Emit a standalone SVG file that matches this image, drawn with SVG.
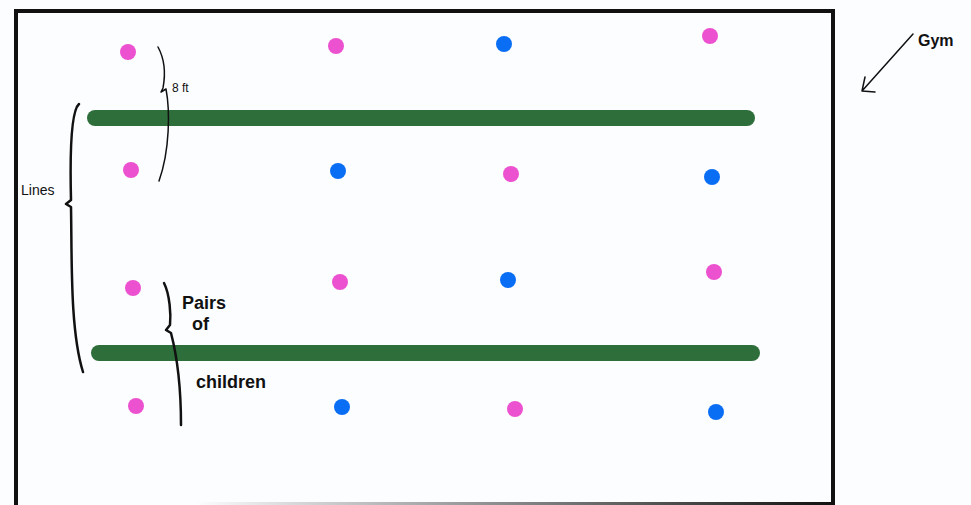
<svg xmlns="http://www.w3.org/2000/svg" width="971" height="505" viewBox="0 0 971 505">
<style>
.pink{fill:#ec52d0}
.blue{fill:#0a6ef5}
.green{stroke:#2e6e3a;stroke-width:16;stroke-linecap:round;fill:none}
.ink{stroke:#111;fill:none;stroke-linecap:round;stroke-linejoin:round}
.lbl{font-family:"Liberation Sans",Arial,sans-serif;fill:#111}
</style>
<defs>
<linearGradient id="fade" x1="0" y1="0" x2="1" y2="0">
<stop offset="0" stop-color="#111" stop-opacity="0"/>
<stop offset="1" stop-color="#111" stop-opacity="1"/>
</linearGradient>
</defs>
<rect x="0" y="0" width="971" height="505" fill="#fcfdff"/>
<g id="gym">
<path d="M16,505 V11 H833 V505" fill="none" stroke="#111" stroke-width="4"/>
<rect x="195" y="502" width="638" height="3" fill="url(#fade)"/>
</g>
<g id="lines">
<line class="green" x1="95" y1="118" x2="747" y2="118"/>
<line class="green" x1="99" y1="353" x2="752" y2="353"/>
</g>
<g id="children">
<circle class="pink" cx="128" cy="52" r="8"/>
<circle class="pink" cx="336" cy="46" r="8"/>
<circle class="blue" cx="504" cy="44" r="8"/>
<circle class="pink" cx="710" cy="36" r="8"/>
<circle class="pink" cx="131" cy="170" r="8"/>
<circle class="blue" cx="338" cy="171" r="8"/>
<circle class="pink" cx="511" cy="174" r="8"/>
<circle class="blue" cx="712" cy="177" r="8"/>
<circle class="pink" cx="133" cy="288" r="8"/>
<circle class="pink" cx="340" cy="282" r="8"/>
<circle class="blue" cx="508" cy="280" r="8"/>
<circle class="pink" cx="714" cy="272" r="8"/>
<circle class="pink" cx="136" cy="406" r="8"/>
<circle class="blue" cx="342" cy="407" r="8"/>
<circle class="pink" cx="515" cy="409" r="8"/>
<circle class="blue" cx="716" cy="412" r="8"/>
</g>
<g id="annotations">
<path class="ink" stroke-width="1.5" d="M158,47 C164,58 166,72 163,88 L161,92 L166,89 C170,110 170,150 159,181"/>
<text class="lbl" x="172" y="92" font-size="12">8 ft</text>
<path class="ink" stroke-width="2.5" d="M79,104 C70,112 70,160 71,200 L66,204 L71,207 C72,260 70,330 83,372"/>
<text class="lbl" x="21" y="195" font-size="14">Lines</text>
<path class="ink" stroke-width="2.5" d="M164,283 C170,295 171,315 170,325 L166,330 L171,333 C178,360 181,395 181,425"/>
<text class="lbl" x="182" y="309" font-size="18" font-weight="bold">Pairs</text>
<text class="lbl" x="192" y="330" font-size="18" font-weight="bold">of</text>
<text class="lbl" x="196" y="388" font-size="18" font-weight="bold">children</text>
<path class="ink" stroke-width="1.5" d="M913,34 L862,91 M862,91 L865,77 M862,91 L875,92"/>
<text class="lbl" x="918" y="46" font-size="16" font-weight="bold">Gym</text>
</g>
</svg>
